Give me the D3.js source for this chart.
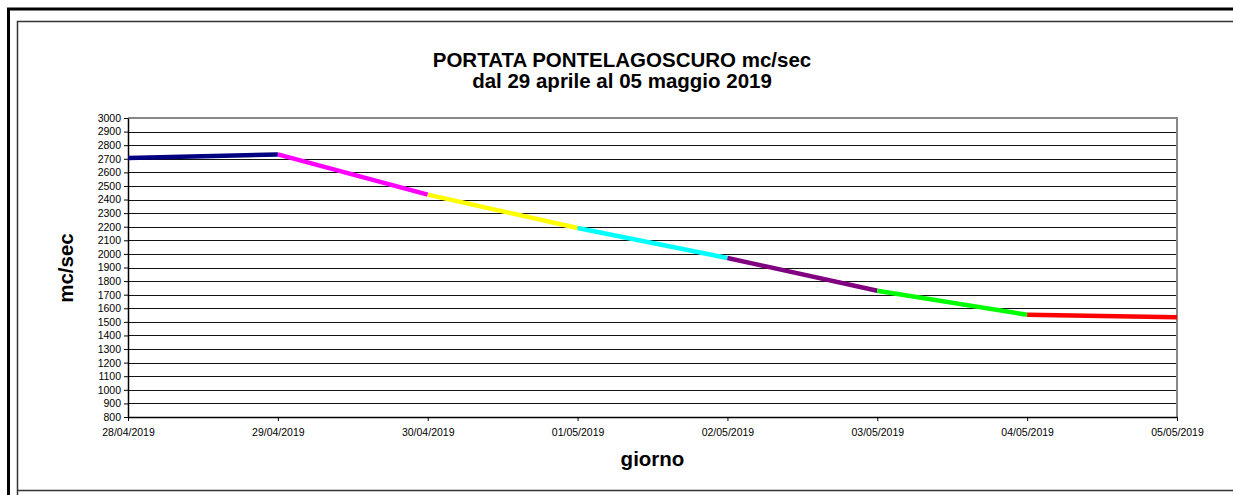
<!DOCTYPE html>
<html>
<head>
<meta charset="utf-8">
<script src="https://cdn.jsdelivr.net/npm/d3@7.9.0/dist/d3.min.js"></script>
<style>
  body { margin: 0; background: #fff; }
  svg { display: block; font-family: "Liberation Sans", Arial, sans-serif; }
</style>
</head>
<body>
<svg id="chart" width="1233" height="495"></svg>
<script>
const dates = ['28/04/2019', '29/04/2019', '30/04/2019', '01/05/2019', '02/05/2019', '03/05/2019', '04/05/2019', '05/05/2019'];
const portata = [2705, 2732, 2436, 2191, 1970, 1729, 1552, 1534];
const segColors = ['#000080', '#ff00ff', '#ffff00', '#00ffff', '#800080', '#00ff00', '#ff0000'];
const yTicks = d3.range(800, 3001, 100);

const svg = d3.select('#chart');

// frame
svg.append('rect').attr('x', 8.5).attr('y', 9).attr('width', 1240).attr('height', 500)
  .attr('fill', 'none').attr('stroke', '#000').attr('stroke-width', 3);
svg.append('path').attr('d', 'M17.5,495 V21.5 H1233 M17.5,490.5 H1233')
  .attr('fill', 'none').attr('stroke', '#333').attr('stroke-width', 1.5);

const m = { left: 128, right: 1177, top: 118, bottom: 417 };

const x = d3.scalePoint().domain(dates).range([m.left, m.right]);
const y = d3.scaleLinear().domain([800, 3000]).range([m.bottom, m.top]);

// gridlines
svg.append('g').selectAll('line').data(yTicks.filter(d => d > 800 && d < 3000)).join('line')
  .attr('x1', m.left).attr('x2', m.right)
  .attr('y1', d => Math.round(y(d)) + 0.5).attr('y2', d => Math.round(y(d)) + 0.5)
  .attr('stroke', '#111').attr('stroke-width', 1);

// plot border top / right (gray)
svg.append('path')
  .attr('d', `M${m.left},${m.top} H${m.right} V${m.bottom}`)
  .attr('fill', 'none').attr('stroke', '#888').attr('stroke-width', 2);

// y axis
const yAxis = svg.append('g').attr('transform', `translate(${m.left},0)`)
  .call(d3.axisLeft(y).tickValues(yTicks).tickFormat(d3.format('d')).tickSize(4).tickSizeOuter(0).tickPadding(3));
yAxis.select('.domain').attr('stroke', '#000').attr('stroke-width', 1.5);
yAxis.selectAll('text').attr('font-size', 10.5).attr('fill', '#000');

// x axis
const xAxis = svg.append('g').attr('transform', `translate(0,${m.bottom})`)
  .call(d3.axisBottom(x).tickSize(4).tickSizeOuter(0).tickPadding(8));
xAxis.select('.domain').attr('stroke', '#000').attr('stroke-width', 1.5);
xAxis.selectAll('text').attr('font-size', 10.5).attr('fill', '#000');

// coloured segments, one per day
const pts = dates.map((d, i) => [x(d), y(portata[i])]);
svg.append('g').selectAll('line').data(segColors).join('line')
  .attr('x1', (c, i) => pts[i][0]).attr('y1', (c, i) => pts[i][1])
  .attr('x2', (c, i) => pts[i + 1][0]).attr('y2', (c, i) => pts[i + 1][1])
  .attr('stroke', c => c).attr('stroke-width', 4.5);

// titles
svg.append('text').attr('x', 622).attr('y', 67).attr('text-anchor', 'middle')
  .attr('font-size', 20.5).attr('font-weight', 'bold').text('PORTATA PONTELAGOSCURO mc/sec');
svg.append('text').attr('x', 622).attr('y', 88).attr('text-anchor', 'middle')
  .attr('font-size', 20.5).attr('font-weight', 'bold').text('dal 29 aprile al 05 maggio 2019');

svg.append('text').attr('transform', 'translate(73,268) rotate(-90)').attr('text-anchor', 'middle')
  .attr('font-size', 20.5).attr('font-weight', 'bold').text('mc/sec');
svg.append('text').attr('x', (m.left + m.right) / 2).attr('y', 466).attr('text-anchor', 'middle')
  .attr('font-size', 20.5).attr('font-weight', 'bold').text('giorno');
</script>
</body>
</html>
